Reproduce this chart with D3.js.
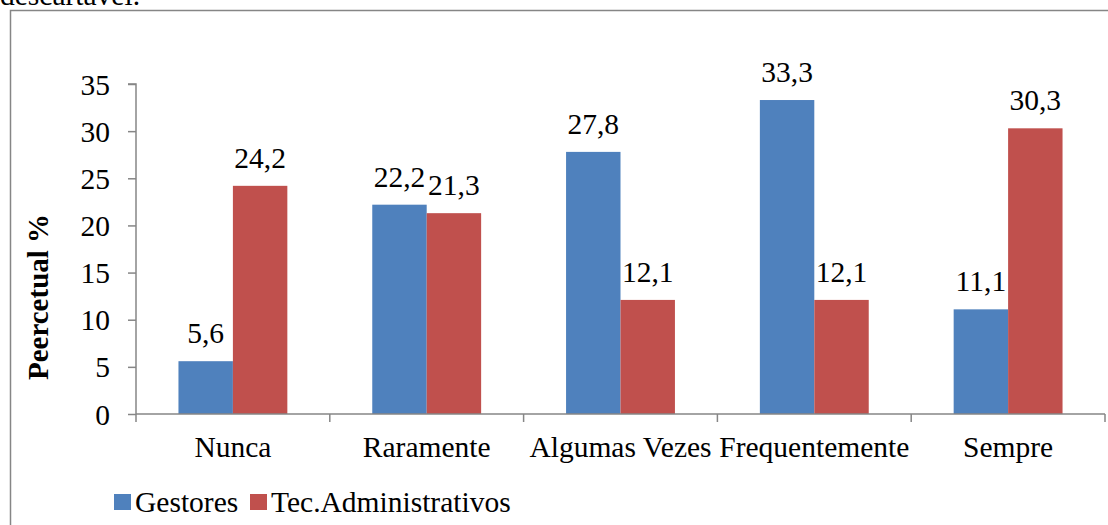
<!DOCTYPE html>
<html>
<head>
<meta charset="utf-8">
<script src="https://cdn.jsdelivr.net/npm/d3@7"></script>
<style>
  html, body { margin: 0; padding: 0; background: #fff; }
  svg { display: block; }
  svg text { font-family: "Liberation Serif", "Times New Roman", serif; fill: #000; }
</style>
</head>
<body>
<svg id="chart" width="1108" height="525"></svg>
<script>
// Frequency of responses by group (%)
const categories = ["Nunca", "Raramente", "Algumas Vezes", "Frequentemente", "Sempre"];
const seriesNames = ["Gestores", "Tec.Administrativos"];
const gestores = [5.6, 22.2, 27.8, 33.3, 11.1];
const tecAdministrativos = [24.2, 21.3, 12.1, 12.1, 30.3];
const yTicks = [0, 5, 10, 15, 20, 25, 30, 35];
const colors = ["#4F81BD", "#C0504D"];

const FONT = 29.5;
const GRID = "#868686";

const svg = d3.select("#chart");
const fmt = v => String(v).replace(".", ",");

// Tail of the preceding paragraph, clipped by the top edge
svg.append("text")
  .attr("x", 0).attr("y", 5)
  .style("font-size", FONT + "px")
  .text("descartável.");

// Chart frame
svg.append("rect")
  .attr("x", 10.5).attr("y", 10.5)
  .attr("width", 1120).attr("height", 540)
  .attr("fill", "none").attr("stroke", GRID).attr("stroke-width", 1.5);

const plot = { left: 136, right: 1105, top: 84, bottom: 414 };

const x = d3.scaleBand().domain(categories).range([plot.left, plot.right]).paddingInner(0).paddingOuter(0);
const y = d3.scaleLinear().domain([0, 35]).range([plot.bottom, plot.top]);
const inner = d3.scaleBand().domain(seriesNames).range([0, x.bandwidth()]).paddingInner(0).paddingOuter(0.78);

const data = categories.map((c, i) => ({ cat: c, vals: [gestores[i], tecAdministrativos[i]] }));

// Y axis
const yAxis = svg.append("g")
  .attr("transform", `translate(${plot.left},0)`)
  .call(d3.axisLeft(y).tickValues(yTicks).tickSize(8).tickPadding(18).tickFormat(d => d));
yAxis.attr("font-family", null).attr("font-size", null);
yAxis.selectAll("path, line").attr("stroke", GRID).attr("stroke-width", 1.5);
yAxis.select(".domain").attr("d", `M-8,${y(35)}H0V${y(0)}`);
yAxis.selectAll("text").style("font-size", FONT + "px").attr("dy", "0.34em");

// Bars
const groups = svg.append("g").selectAll("g").data(data).join("g")
  .attr("transform", d => `translate(${x(d.cat)},0)`);

groups.selectAll("rect").data(d => d.vals.map((v, k) => ({ v, k }))).join("rect")
  .attr("x", d => inner(seriesNames[d.k]))
  .attr("width", inner.bandwidth())
  .attr("y", d => y(d.v))
  .attr("height", d => y(0) - y(d.v))
  .attr("fill", d => colors[d.k]);

// Value labels
groups.selectAll("text").data(d => d.vals.map((v, k) => ({ v, k }))).join("text")
  .attr("x", d => inner(seriesNames[d.k]) + inner.bandwidth() / 2)
  .attr("y", d => y(d.v) - 18)
  .attr("text-anchor", "middle")
  .style("font-size", FONT + "px")
  .text(d => fmt(d.v));

// X axis
const xAxis = svg.append("g")
  .attr("transform", `translate(0,${plot.bottom})`)
  .call(d3.axisBottom(x).tickSize(0).tickPadding(43));
xAxis.attr("font-family", null).attr("font-size", null);
xAxis.select(".domain").attr("stroke", GRID).attr("stroke-width", 1.5)
  .attr("d", `M${plot.left},0H${plot.right}`);
xAxis.selectAll("text").style("font-size", FONT + "px").attr("dy", 0);
const boundaries = categories.map(c => x(c)).concat([x(categories[categories.length - 1]) + x.bandwidth()]);
xAxis.selectAll(".sep").data(boundaries).join("line")
  .attr("class", "sep")
  .attr("x1", d => d).attr("x2", d => d)
  .attr("y1", 0).attr("y2", 8)
  .attr("stroke", GRID).attr("stroke-width", 1.5);

// Y axis title
svg.append("text")
  .attr("transform", "translate(48,297) rotate(-90)")
  .attr("text-anchor", "middle")
  .style("font-size", "29px")
  .style("font-weight", "bold")
  .text("Peercetual %");

// Legend
const legendItems = [{ name: seriesNames[0], x: 114 }, { name: seriesNames[1], x: 250 }];
const legend = svg.append("g").selectAll("g").data(legendItems).join("g")
  .attr("transform", d => `translate(${d.x},494)`);
legend.append("rect").attr("width", 17).attr("height", 16).attr("fill", (d, i) => colors[i]);
legend.append("text").attr("x", 21).attr("y", 18).style("font-size", FONT + "px").text(d => d.name);
</script>
</body>
</html>
